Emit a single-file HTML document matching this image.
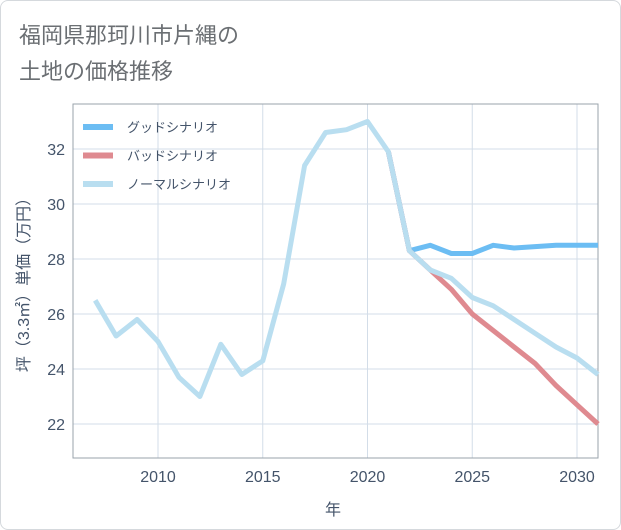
<!DOCTYPE html>
<html><head><meta charset="utf-8"><style>
body{margin:0;background:#fff;}
#card{position:absolute;left:0;top:0;width:619px;height:528px;border:1px solid #d5d9dd;border-radius:8px;background:#fff;overflow:hidden;}
svg{position:absolute;left:0;top:0;font-family:"Liberation Sans","Noto Sans CJK JP",sans-serif;}
</style></head><body>
<div id="card">
<svg id="chart" width="621" height="530">
<text x="18" y="42" font-size="22" fill="#6b6f73">福岡県那珂川市片縄の</text>
<text x="18" y="78" font-size="22" fill="#6b6f73">土地の価格推移</text>
<g id="grid"></g>
<rect x="72" y="103" width="525" height="354" fill="none" stroke="#9aa3ab" stroke-width="1"/>
<g id="series"></g>
<g id="legend"></g>
<text x="332" y="514" font-size="16" fill="#44546a" text-anchor="middle">年</text>
<text transform="translate(28,280) rotate(-90)" font-size="16" fill="#44546a" text-anchor="middle">坪（3.3㎡）単価（万円）</text>
</svg></div>
<script>
const years=[2007,2008,2009,2010,2011,2012,2013,2014,2015,2016,2017,2018,2019,2020,2021,2022,2023,2024,2025,2026,2027,2028,2029,2030,2031];
const normal=[26.5,25.2,25.8,25.0,23.7,23.0,24.9,23.8,24.3,27.1,31.4,32.6,32.7,33.0,31.9,28.3,27.6,27.3,26.6,26.3,25.8,25.3,24.8,24.4,23.8];
const futureYears=[2021,2022,2023,2024,2025,2026,2027,2028,2029,2030,2031];
const good=[31.9,28.3,28.5,28.2,28.2,28.5,28.4,28.45,28.5,28.5,28.5];
const bad=[31.9,28.3,27.6,26.9,26.0,25.4,24.8,24.2,23.4,22.7,22.0];
const xTicks=[2010,2015,2020,2025,2030];
const yTicks=[22,24,26,28,30,32];
const NS="http://www.w3.org/2000/svg";
const X=v=>157+(v-2010)*20.95;
const Y=v=>423-(v-22)*27.5;
function mk(t,a,p){const e=document.createElementNS(NS,t);for(const k in a)e.setAttribute(k,a[k]);p.appendChild(e);return e;}
const grid=document.getElementById('grid');
xTicks.forEach(t=>{
 const l=mk('line',{x1:X(t),x2:X(t),y1:103,y2:457,stroke:'#d3dde8','stroke-width':1},grid);
 
 
 const tx=mk('text',{x:X(t),y:481,'font-size':16,fill:'#44546a','text-anchor':'middle'},grid);
 tx.textContent=t;
 
 
});
yTicks.forEach(t=>{
 const l=mk('line',{x1:72,x2:597,y1:Y(t),y2:Y(t),stroke:'#d3dde8','stroke-width':1},grid);
 
 
 const tx=mk('text',{x:64,y:Y(t)+6,'font-size':16,fill:'#44546a','text-anchor':'end'},grid);
 tx.textContent=t;
 
 
});
const sg=document.getElementById('series');
function line(xs,ys,c,name){
 const d=xs.map((x,i)=>(i?'L':'M')+X(x).toFixed(1)+','+Y(ys[i]).toFixed(1)).join('');
 const p=mk('path',{d:d,fill:'none',stroke:c,'stroke-width':5,'stroke-linejoin':'round'},sg);
 
 
}
line(futureYears,good,'#6cbdf3','good-scenario-line');
line(futureYears,bad,'#df8a90','bad-scenario-line');
line(years,normal,'#b9def0','normal-scenario-line');
const lg=document.getElementById('legend');
[['グッドシナリオ','#6cbdf3'],['バッドシナリオ','#df8a90'],['ノーマルシナリオ','#b9def0']].forEach((s,i)=>{
 const y=126+i*28.5;
 const r=mk('rect',{x:82,y:y-3,width:30,height:6,fill:s[1]},lg);
 
 
 const t=mk('text',{x:126,y:y+5,'font-size':13,fill:'#44546a'},lg);
 t.textContent=s[0];
 
 
});
</script>
</body></html>
